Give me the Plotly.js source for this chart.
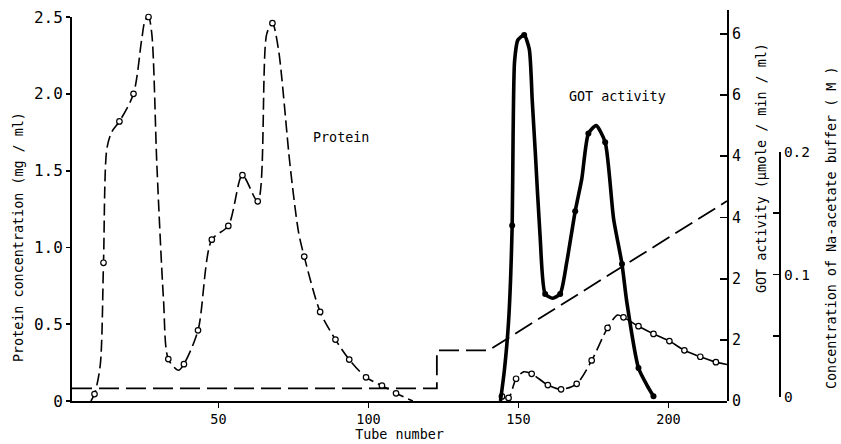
<!DOCTYPE html>
<html>
<head>
<meta charset="utf-8">
<script src="https://cdn.plot.ly/plotly-3.0.1.min.js"></script>
<style>html,body{margin:0;padding:0;background:#fff;}#chart{width:841px;height:444px;}</style>
</head>
<body>
<div id="chart"></div>
<script>
// ---- Data ----
// Protein concentration (mg/ml): smooth curve points and marked (open circle) points
const proteinCurveTube = [7.5, 8.7, 10.6, 11.7, 12.8, 14.4, 17, 21.7, 24.4, 25.6, 26.7, 27.8, 29.5, 31.7, 33.3, 36.7, 38.5, 43.2, 47.8, 53.3, 58, 63.1, 66.1, 68, 70, 73.9, 76.7, 78.6, 83.9, 89, 93.6, 99.2, 104.5, 109.2, 114.8,
  null,
  144.5, 146.7, 149.2, 151.8, 154.4, 159.8, 164.2, 169.4, 174.4, 179.7, 183, 185, 190, 195, 200.3, 205.3, 210.6, 215.8, 219.5];
const proteinCurveConc = [0, 0.045, 0.23, 0.9, 1.64, 1.75, 1.82, 2.0, 2.35, 2.48, 2.5, 2.39, 1.53, 0.66, 0.273, 0.2, 0.24, 0.46, 1.05, 1.14, 1.47, 1.3, 2.39, 2.46, 2.29, 1.53, 1.1, 0.94, 0.58, 0.4, 0.27, 0.154, 0.1, 0.05, 0,
  null,
  0.03, 0.02, 0.145, 0.19, 0.177, 0.104, 0.076, 0.112, 0.264, 0.476, 0.56, 0.545, 0.487, 0.437, 0.39, 0.33, 0.288, 0.253, 0.238];
const proteinTube = [8.7, 11.7, 17, 21.7, 26.7, 33.3, 38.5, 43.2, 47.8, 53.3, 58, 63.1, 68, 78.6, 83.9, 89, 93.6, 99.2, 104.5, 109.2,
  144.5, 146.7, 149.2, 154.4, 159.8, 164.2, 169.4, 174.4, 179.7, 185, 190, 195, 200.3, 205.3, 210.6, 215.8];
const proteinConc = [0.045, 0.9, 1.82, 2.0, 2.5, 0.273, 0.24, 0.46, 1.05, 1.14, 1.47, 1.3, 2.46, 0.94, 0.58, 0.4, 0.27, 0.154, 0.1, 0.05,
  0.03, 0.02, 0.145, 0.177, 0.104, 0.076, 0.112, 0.264, 0.476, 0.545, 0.487, 0.437, 0.39, 0.33, 0.288, 0.253];

// GOT activity (umole/min/ml): curve points and marked (filled dot) points
const gotCurveTube = [144, 145.3, 146.7, 147.9, 148.2, 148.7, 149.8, 151.9, 153.6, 154.6, 155.6, 157.2, 158.9, 161.4, 163.9, 166.1, 168.9, 171.1, 173.3, 175.9, 178.9, 181.7, 184.5, 186.1, 190, 192.8, 195];
const gotCurveValue = [0, 0.5, 1.3, 2.87, 4.3, 5.55, 5.9, 5.98, 5.75, 4.9, 4.07, 2.7, 1.75, 1.68, 1.75, 2.27, 3.1, 3.63, 4.37, 4.5, 4.23, 2.98, 2.24, 1.62, 0.54, 0.26, 0.077];
const gotTube = [147.9, 151.9, 158.9, 163.9, 168.9, 173.3, 178.9, 184.5, 190, 195];
const gotValue = [2.87, 5.98, 1.75, 1.75, 3.1, 4.37, 4.23, 2.24, 0.54, 0.077];

// Na-acetate buffer concentration (M)
const bufferTube = [1.2, 122.8, 122.8, 140, 219.5];
const bufferConc = [0.007, 0.007, 0.038, 0.038, 0.16];

// Tick labels
const xTickVals = [50, 100, 150, 200];
const xTickText = ['50', '100', '150', '200'];
const proteinTickVals = [0, 0.5, 1.0, 1.5, 2.0, 2.5];
const proteinTickText = ['0', '0.5', '1.0', '1.5', '2.0', '2.5'];
const gotTickVals = [0, 1, 2, 3, 4, 5, 6];
const gotTickText = ['0', '2', '2', '4', '4', '6', '6'];
const bufferTickVals = [0, 0.05, 0.1, 0.15, 0.2];
const bufferTickText = ['0', '', '0.1', '', '0.2'];

// ---- Layout helpers (pixel -> paper) ----
const W = 841, H = 444;
const px = v => v / W;
const py = v => 1 - v / H;
const FONT = 'DejaVu Sans Mono, Liberation Mono, monospace';

const traces = [
  { x: bufferTube, y: bufferConc, xaxis: 'x', yaxis: 'y3', mode: 'lines', name: 'Na-acetate buffer',
    line: { color: '#000', width: 1.8, dash: '20px,7px' }, hoverinfo: 'skip' },
  { x: proteinCurveTube, y: proteinCurveConc, xaxis: 'x', yaxis: 'y', mode: 'lines', name: 'Protein',
    line: { color: '#000', width: 1.6, dash: '12px,5px', shape: 'spline', smoothing: 0.8 }, connectgaps: false, cliponaxis: false },
  { x: proteinTube, y: proteinConc, xaxis: 'x', yaxis: 'y', mode: 'markers', name: 'Protein points',
    marker: { symbol: 'circle', size: 5.5, color: '#fff', line: { color: '#000', width: 1.2 } }, cliponaxis: false },
  { x: gotCurveTube, y: gotCurveValue, xaxis: 'x', yaxis: 'y2', mode: 'lines', name: 'GOT activity',
    line: { color: '#000', width: 3.6, shape: 'spline', smoothing: 0.6 }, cliponaxis: false },
  { x: gotTube, y: gotValue, xaxis: 'x', yaxis: 'y2', mode: 'markers', name: 'GOT points',
    marker: { symbol: 'circle', size: 6, color: '#000' }, cliponaxis: false }
];

const axisLine = { showline: true, linecolor: '#000', linewidth: 2, showgrid: false, zeroline: false, tickcolor: '#000', tickwidth: 1.8 };

const layout = {
  width: W, height: H,
  margin: { l: 0, r: 0, t: 0, b: 0 },
  paper_bgcolor: '#fff', plot_bgcolor: 'rgba(0,0,0,0)',
  showlegend: false,
  font: { family: FONT, color: '#000', size: 13.4 },
  xaxis: Object.assign({}, axisLine, {
    domain: [px(72), px(727)], range: [1.2, 219.5], anchor: 'y',
    ticks: 'outside', ticklen: 5, tickvals: xTickVals, ticktext: xTickText,
    tickfont: { family: FONT, size: 13.5 },
    title: { text: 'Tube number', font: { family: FONT, size: 13.4 }, standoff: 2 }
  }),
  yaxis: Object.assign({}, axisLine, {
    domain: [py(401), py(17)], range: [0, 2.5], anchor: 'x',
    ticks: 'outside', ticklen: 4, tickvals: proteinTickVals, ticktext: proteinTickText,
    tickfont: { family: FONT, size: 16 }
  }),
  yaxis2: Object.assign({}, axisLine, {
    domain: [py(401), py(10)], range: [0, 6.39], anchor: 'x', side: 'right',
    ticks: 'inside', ticklen: 7, tickvals: gotTickVals, ticktext: gotTickText,
    tickfont: { family: FONT, size: 15 }
  }),
  yaxis3: Object.assign({}, axisLine, {
    domain: [py(397), py(152)], range: [0, 0.2], anchor: 'free', position: px(780), side: 'right',
    ticks: 'inside', ticklen: 6, tickvals: bufferTickVals, ticktext: bufferTickText,
    tickfont: { family: FONT, size: 14.5 }
  }),
  annotations: [
    { text: 'Protein', xref: 'paper', yref: 'paper', x: px(341.3), y: py(137.7), xanchor: 'center', yanchor: 'middle', showarrow: false, font: { family: FONT, size: 13.4 } },
    { text: 'GOT activity', xref: 'paper', yref: 'paper', x: px(617), y: py(96.7), xanchor: 'center', yanchor: 'middle', showarrow: false, font: { family: FONT, size: 13.4 } },
    { text: 'Protein concentration (mg / ml)', xref: 'paper', yref: 'paper', x: px(18.3), y: py(236.7), xanchor: 'center', yanchor: 'middle', textangle: -90, showarrow: false, font: { family: FONT, size: 13.4 } },
    { text: 'GOT activity (μmole / min / ml)', xref: 'paper', yref: 'paper', x: px(761.7), y: py(168.3), xanchor: 'center', yanchor: 'middle', textangle: -90, showarrow: false, font: { family: FONT, size: 13.4 } },
    { text: 'Concentration of Na-acetate buffer ( M )', xref: 'paper', yref: 'paper', x: px(831.7), y: py(228.3), xanchor: 'center', yanchor: 'middle', textangle: -90, showarrow: false, font: { family: FONT, size: 13.4 } }
  ]
};

Plotly.newPlot('chart', traces, layout, { staticPlot: true, displayModeBar: false });
</script>
</body>
</html>
